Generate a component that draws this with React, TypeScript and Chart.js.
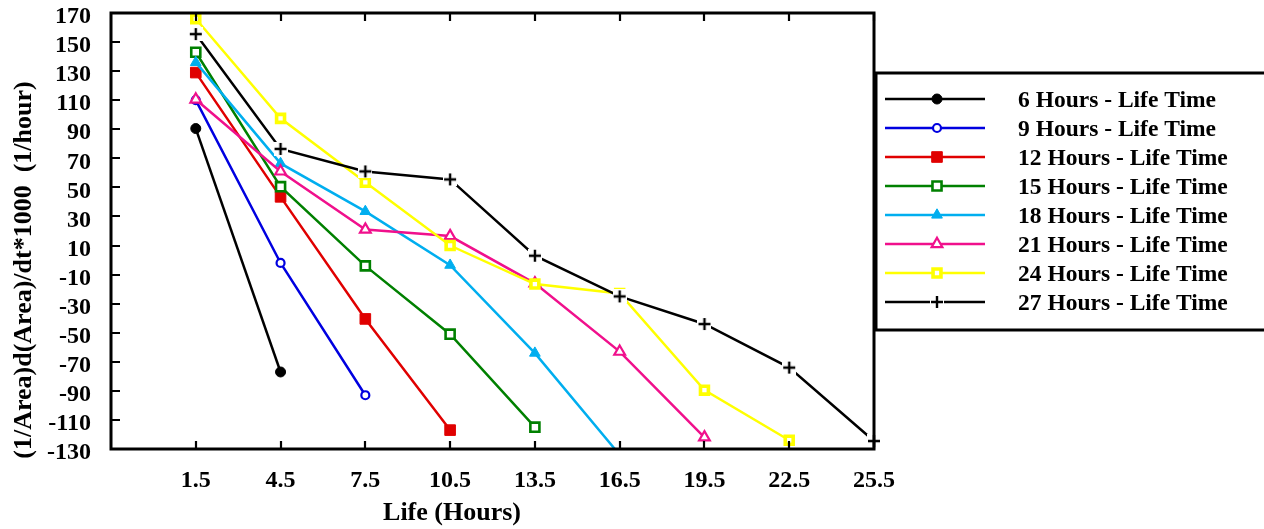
import React, { useEffect, useRef } from 'react';
import { Chart, registerables } from 'chart.js';
import { drawPoint } from 'chart.js/helpers';

Chart.register(...registerables);

// ---------------- data ----------------
const lifeHours = [1.5, 4.5, 7.5, 10.5, 13.5, 16.5, 19.5, 22.5, 25.5];
const xTickValues = [1.5, 4.5, 7.5, 10.5, 13.5, 16.5, 19.5, 22.5, 25.5];
const yTickValues = [170, 150, 130, 110, 90, 70, 50, 30, 10, -10, -30, -50, -70, -90, -110, -130];

const seriesLabels = [
  '6 Hours - Life Time',
  '9 Hours - Life Time',
  '12 Hours - Life Time',
  '15 Hours - Life Time',
  '18 Hours - Life Time',
  '21 Hours - Life Time',
  '24 Hours - Life Time',
  '27 Hours - Life Time',
];

const h6 = [90.5, -77];
const h9 = [110, -2, -93];
const h12 = [129, 43.5, -40.5, -117];
const h15 = [143, 50.5, -4, -51, -115];
const h18 = [136, 66.5, 33.5, -3.5, -64, -134];
const h21 = [110.5, 61, 21, 16.5, -16, -63, -122];
const h24 = [166, 97.5, 53.5, 10, -16.5, -23, -89.5, -124];
const h27 = [155.5, 76.5, 61, 55.5, 3, -25, -44, -74, -124.5];

const seriesValues = [h6, h9, h12, h15, h18, h21, h24, h27];

const xTitle = 'Life (Hours)';
const yTitle = '(1/Area)d(Area)/dt*1000  (1/hour)';

const seriesColors = ['#000000', '#0000e0', '#e00000', '#008000', '#00aeef', '#f0108c', '#ffff00', '#000000'];

const FONT = '"Liberation Serif", "Times New Roman", serif';

function makeCross(): HTMLCanvasElement {
  const c = document.createElement('canvas');
  c.width = 14;
  c.height = 14;
  const g = c.getContext('2d')!;
  g.fillStyle = '#ffffff';
  g.fillRect(0, 0, 14, 14);
  g.strokeStyle = '#000000';
  g.lineWidth = 2.4;
  g.beginPath();
  g.moveTo(1, 7);
  g.lineTo(13, 7);
  g.moveTo(7, 1);
  g.lineTo(7, 13);
  g.stroke();
  return c;
}

export default function App() {
  const ref = useRef<HTMLCanvasElement>(null);

  useEffect(() => {
    const canvas = ref.current!;
    const cross = makeCross();

    const markers: any[] = [
      { pointStyle: 'circle', pointRadius: 5, pointBorderWidth: 1, pointBackgroundColor: '#000000' },
      { pointStyle: 'circle', pointRadius: 4, pointBorderWidth: 2.2, pointBackgroundColor: '#ffffff' },
      { pointStyle: 'rect', pointRadius: 7.5, pointBorderWidth: 1, pointBackgroundColor: '#e00000' },
      { pointStyle: 'rect', pointRadius: 6.4, pointBorderWidth: 2.6, pointBackgroundColor: '#ffffff' },
      { pointStyle: 'triangle', pointRadius: 6.2, pointBorderWidth: 1, pointBackgroundColor: '#00aeef' },
      { pointStyle: 'triangle', pointRadius: 6.2, pointBorderWidth: 2.2, pointBackgroundColor: '#ffffff' },
      { pointStyle: 'rect', pointRadius: 5.6, pointBorderWidth: 3.6, pointBackgroundColor: '#ffffff' },
      { pointStyle: cross, pointRadius: 7, pointBorderWidth: 0, pointBackgroundColor: '#ffffff' },
    ];

    const datasets = seriesValues.map((vals, i) => ({
      label: seriesLabels[i],
      data: vals.map((v, j) => ({ x: lifeHours[j], y: v })),
      borderColor: seriesColors[i],
      borderWidth: 2.5,
      pointBorderColor: seriesColors[i],
      ...markers[i],
      tension: 0,
      order: seriesValues.length - i,
      clip: i === 4 ? undefined : (false as any),
    }));

    const framePlugin = {
      id: 'framePlugin',
      afterDraw(chart: any) {
        const { ctx, chartArea: a, scales } = chart;
        const xs = scales.x;
        const ys = scales.y;
        ctx.save();
        // frame
        ctx.strokeStyle = '#000';
        ctx.lineWidth = 3;
        ctx.strokeRect(a.left, a.top, a.right - a.left, a.bottom - a.top);
        // inward ticks
        ctx.lineWidth = 2.2;
        ctx.beginPath();
        for (const v of xTickValues) {
          const px = Math.round(xs.getPixelForValue(v));
          ctx.moveTo(px, a.bottom);
          ctx.lineTo(px, a.bottom - 8);
          ctx.moveTo(px, a.top);
          ctx.lineTo(px, a.top + 8);
        }
        for (const v of yTickValues) {
          if (v === yTickValues[0] || v === yTickValues[yTickValues.length - 1]) continue;
          const py = Math.round(ys.getPixelForValue(v));
          ctx.moveTo(a.left, py);
          ctx.lineTo(a.left + 9, py);
        }
        ctx.stroke();

        // axis titles
        ctx.fillStyle = '#000';
        ctx.font = `bold 26px ${FONT}`;
        ctx.textAlign = 'center';
        ctx.textBaseline = 'middle';
        ctx.fillText(xTitle, 452, 513);
        ctx.save();
        ctx.translate(24, 270);
        ctx.rotate(-Math.PI / 2);
        ctx.fillText(yTitle, 0, 0);
        ctx.restore();

        // legend
        const lx = 876;
        const ly = 73;
        ctx.fillStyle = '#fff';
        ctx.fillRect(lx, ly, 400, 257);
        ctx.strokeStyle = '#000';
        ctx.lineWidth = 3;
        ctx.strokeRect(lx, ly, 400, 257);
        chart.data.datasets.forEach((ds: any, i: number) => {
          const yy = 99 + i * 29;
          ctx.strokeStyle = ds.borderColor;
          ctx.lineWidth = 2.5;
          ctx.beginPath();
          ctx.moveTo(885, yy);
          ctx.lineTo(985, yy);
          ctx.stroke();
          ctx.fillStyle = ds.pointBackgroundColor;
          ctx.strokeStyle = ds.pointBorderColor;
          ctx.lineWidth = ds.pointBorderWidth;
          drawPoint(ctx, { pointStyle: ds.pointStyle, radius: ds.pointRadius, borderWidth: ds.pointBorderWidth, rotation: 0 } as any, 937, yy);
          ctx.fillStyle = '#000';
          ctx.font = `bold 23.5px ${FONT}`;
          ctx.textAlign = 'left';
          ctx.textBaseline = 'middle';
          ctx.fillText(ds.label, 1018, yy + 2);
        });
        ctx.restore();
      },
    };

    const chart = new Chart(canvas, {
      type: 'line',
      data: { datasets: datasets as any },
      options: {
        animation: false,
        responsive: false,
        devicePixelRatio: 1,
        layout: { autoPadding: false, padding: { left: 0, right: 390, top: 13, bottom: 0 } },
        plugins: {
          legend: { display: false },
          tooltip: { enabled: false },
          title: { display: false },
        },
        scales: {
          x: {
            type: 'linear',
            min: -1.5,
            max: 25.5,
            grid: { display: false, drawTicks: false },
            border: { display: false },
            afterBuildTicks: (scale: any) => {
              scale.ticks = xTickValues.map((v) => ({ value: v }));
            },
            afterFit: (scale: any) => {
              scale.height = 80;
              scale.paddingLeft = 0;
              scale.paddingRight = 0;
            },
            ticks: {
              autoSkip: false,
              maxRotation: 0,
              padding: 17,
              color: '#000',
              font: { family: FONT, size: 24, weight: 'bold' },
              callback: (v: any) => String(v),
            },
          },
          y: {
            type: 'linear',
            min: -130,
            max: 170,
            grid: { display: false, drawTicks: false },
            border: { display: false },
            afterBuildTicks: (scale: any) => {
              scale.ticks = yTickValues.map((v) => ({ value: v }));
            },
            afterFit: (scale: any) => {
              scale.width = 111;
              scale.paddingTop = 0;
              scale.paddingBottom = 0;
            },
            ticks: {
              autoSkip: false,
              padding: 20,
              labelOffset: 4,
              color: '#000',
              font: { family: FONT, size: 24, weight: 'bold', lineHeight: 1 },
              callback: (v: any) => String(v),
            },
          },
        },
      },
      plugins: [framePlugin],
    });

    return () => chart.destroy();
  }, []);

  return (
    <div style={{ position: 'absolute', left: 0, top: 0, width: 1264, height: 529, background: '#fff' }}>
      <canvas ref={ref} width={1264} height={529} style={{ display: 'block' }} />
    </div>
  );
}
